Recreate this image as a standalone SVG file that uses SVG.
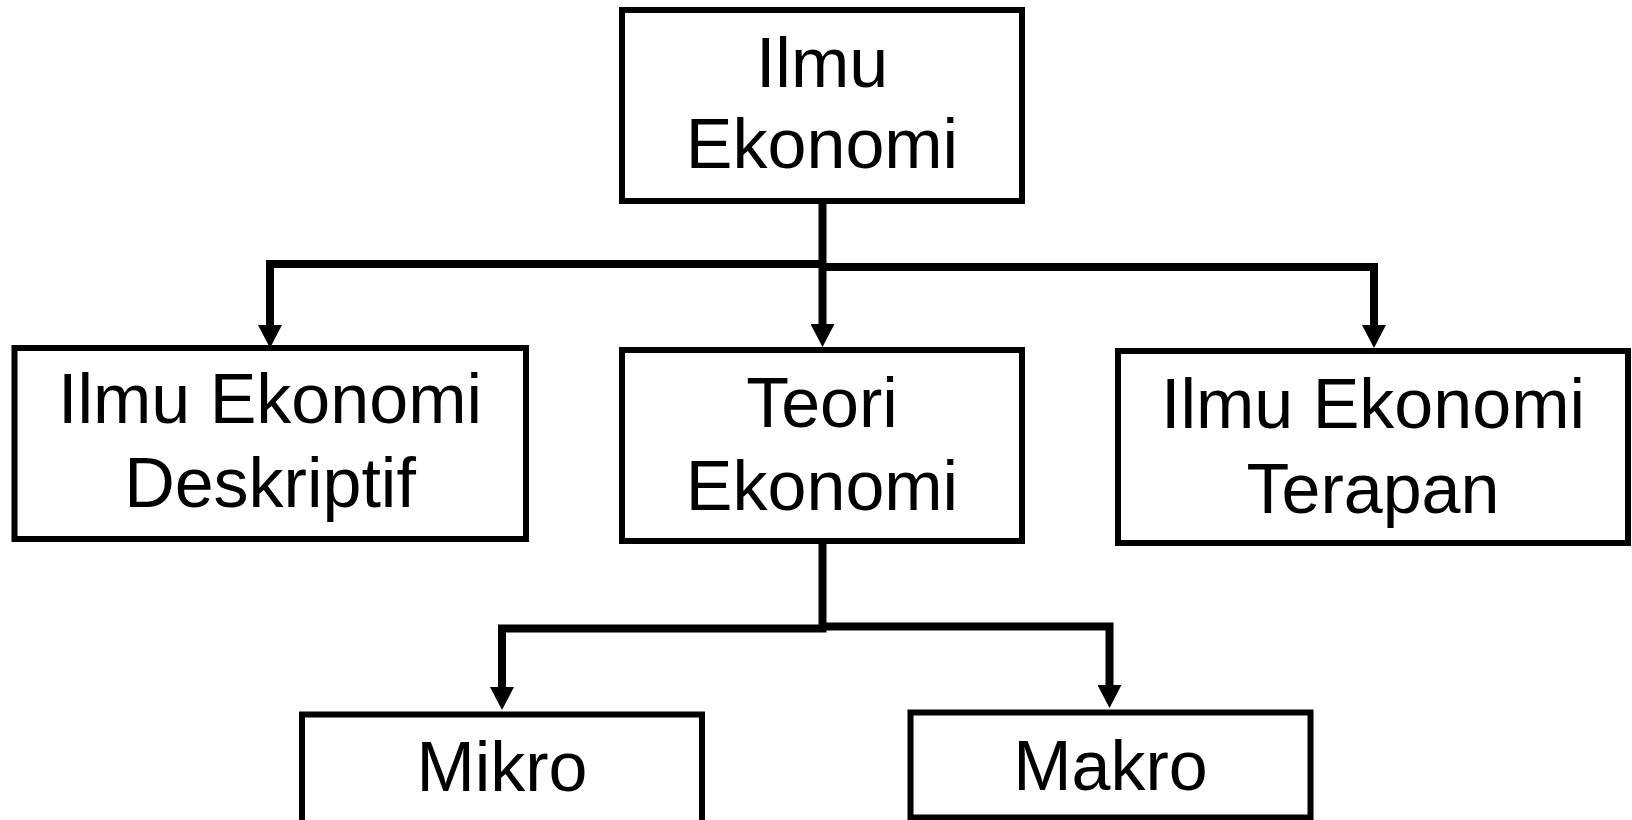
<svg xmlns="http://www.w3.org/2000/svg" width="1632" height="820" viewBox="0 0 1632 820">
  <style>
    .box { fill: #ffffff; stroke: #000000; stroke-width: 6; }
    .lbl { font-family: "Liberation Sans", Arial, sans-serif; font-size: 70px; fill: #000000; text-anchor: middle; }
    .conn { fill: none; stroke: #000000; stroke-width: 8; stroke-linejoin: miter; marker-end: url(#ah); }
  </style>
  <defs>
    <marker id="ah" markerUnits="userSpaceOnUse" markerWidth="23" markerHeight="24" viewBox="0 -12 23 24" refX="0" refY="0" orient="auto">
      <path d="M0,-12 L23,0 L0,12 Z" fill="#000000"/>
    </marker>
  </defs>
  <rect width="1632" height="820" fill="#ffffff"/>

  <g id="connectors">
    <path class="conn" d="M822.5,198 V324"/>
    <path class="conn" d="M822.5,264 H270 V325"/>
    <path class="conn" d="M822.5,267 H1374 V325"/>
    <path class="conn" d="M822.5,538 V628.5 H502 V687"/>
    <path class="conn" d="M822.5,626.5 H1109.5 V685"/>
  </g>

  <g id="ilmu-ekonomi">
    <rect class="box" x="622" y="10" width="400" height="191"/>
    <text class="lbl" x="822" y="87">Ilmu</text>
    <text class="lbl" x="822" y="168">Ekonomi</text>
  </g>

  <g id="deskriptif">
    <rect class="box" x="14.5" y="348" width="511.5" height="191"/>
    <text class="lbl" x="270" y="423">Ilmu Ekonomi</text>
    <text class="lbl" x="270" y="507">Deskriptif</text>
  </g>

  <g id="teori">
    <rect class="box" x="622" y="350" width="400" height="191"/>
    <text class="lbl" x="822" y="427">Teori</text>
    <text class="lbl" x="822" y="510">Ekonomi</text>
  </g>

  <g id="terapan">
    <rect class="box" x="1118" y="351" width="510" height="192"/>
    <text class="lbl" x="1373" y="428">Ilmu Ekonomi</text>
    <text class="lbl" x="1373" y="513">Terapan</text>
  </g>

  <g id="mikro">
    <rect class="box" x="302" y="714.5" width="400" height="130"/>
    <text class="lbl" x="502" y="791">Mikro</text>
  </g>

  <g id="makro">
    <rect class="box" x="910.5" y="712.5" width="400" height="105"/>
    <text class="lbl" x="1110.5" y="790">Makro</text>
  </g>
</svg>
